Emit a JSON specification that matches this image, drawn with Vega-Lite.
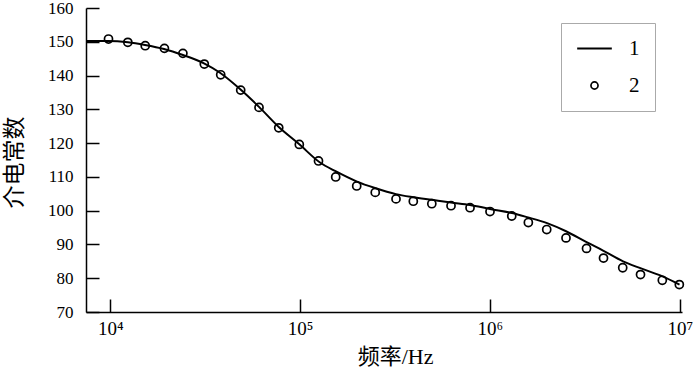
{
  "$schema": "https://vega.github.io/schema/vega-lite/v6.json",
  "autosize": {"type": "none"},
  "padding": {"left": 86, "top": 8, "right": 18, "bottom": 59},
  "width": 596,
  "height": 304,
  "background": "white",
  "config": {
    "view": {"stroke": null},
    "axis": {"grid": false, "domainColor": "black", "tickColor": "black", "labelColor": "black", "titleColor": "black", "domainWidth": 1.5, "tickWidth": 1.5, "labelFont": "Liberation Serif", "titleFont": "Liberation Serif, Noto Sans CJK SC", "titleFontWeight": "normal"},
    "legend": {
      "orient": "none", "legendX": 475, "legendY": 15, "padding": 15, "strokeColor": "#aaa",
      "symbolSize": 400, "symbolOffset": 8, "labelOffset": 24, "rowPadding": 15,
      "labelFont": "Liberation Serif", "labelFontSize": 21, "labelColor": "black"
    }
  },
  "datasets": {
    "curve": [
      {"f": 7447, "v": 150.22}, {"f": 9726, "v": 150.22}, {"f": 12400, "v": 149.84}, {"f": 15230, "v": 149.05},
      {"f": 19190, "v": 147.86}, {"f": 24150, "v": 146.08}, {"f": 31170, "v": 143.62}, {"f": 37840, "v": 140.83},
      {"f": 48240, "v": 136.0}, {"f": 60750, "v": 130.72}, {"f": 77440, "v": 124.68}, {"f": 98680, "v": 119.72},
      {"f": 127300, "v": 114.25}, {"f": 154600, "v": 111.6}, {"f": 199400, "v": 108.6}, {"f": 248100, "v": 106.7},
      {"f": 320100, "v": 104.9}, {"f": 393300, "v": 104.0}, {"f": 495300, "v": 103.2}, {"f": 623700, "v": 102.4},
      {"f": 785700, "v": 101.7}, {"f": 1001000, "v": 100.5}, {"f": 1308000, "v": 99.3}, {"f": 1588000, "v": 98.0},
      {"f": 2000000, "v": 96.3}, {"f": 2518000, "v": 93.9}, {"f": 3249000, "v": 90.6}, {"f": 3944000, "v": 88.2},
      {"f": 5028000, "v": 85.0}, {"f": 6256000, "v": 82.9}, {"f": 8067000, "v": 80.6}, {"f": 9975000, "v": 78.1}
    ],
    "points": [
      {"f": 9784, "v": 150.81}, {"f": 12370, "v": 149.84}, {"f": 15275, "v": 148.83}, {"f": 19280, "v": 148.06},
      {"f": 24130, "v": 146.58}, {"f": 31280, "v": 143.4}, {"f": 38160, "v": 140.23}, {"f": 48640, "v": 135.7},
      {"f": 60750, "v": 130.57}, {"f": 77160, "v": 124.53}, {"f": 99040, "v": 119.61}, {"f": 125000, "v": 114.72},
      {"f": 154000, "v": 109.98}, {"f": 198700, "v": 107.31}, {"f": 248800, "v": 105.41}, {"f": 320100, "v": 103.49},
      {"f": 394800, "v": 102.8}, {"f": 494200, "v": 102.06}, {"f": 623900, "v": 101.47}, {"f": 785700, "v": 100.88},
      {"f": 1001000, "v": 99.75}, {"f": 1303000, "v": 98.42}, {"f": 1594000, "v": 96.49}, {"f": 1992000, "v": 94.42},
      {"f": 2517000, "v": 91.93}, {"f": 3228000, "v": 88.82}, {"f": 3967000, "v": 85.97}, {"f": 5008000, "v": 83.1},
      {"f": 6215000, "v": 81.08}, {"f": 8096000, "v": 79.39}, {"f": 9952000, "v": 78.12}
    ]
  },
  "encoding": {
    "x": {"field": "f", "type": "quantitative",
      "scale": {"type": "log", "domain": [7447, 10280000], "nice": false},
      "axis": {"values": [10000, 100000, 1000000, 10000000], "tickSize": -13, "labelPadding": 20, "labelFontSize": 19, "labelFont": "Liberation Serif",
        "labelExpr": "datum.value == 10000 ? '10⁴' : datum.value == 100000 ? '10⁵' : datum.value == 1000000 ? '10⁶' : '10⁷'",
        "labelFlush": false, "labelOverlap": false,
        "title": "频率/Hz", "titleFontSize": 22, "titleX": 309, "titleY": 44, "titleBaseline": "middle", "titleAlign": "center"}},
    "y": {"field": "v", "type": "quantitative",
      "scale": {"domain": [70, 160], "nice": false, "zero": false},
      "axis": {"values": [70, 80, 90, 100, 110, 120, 130, 140, 150, 160], "tickSize": -13, "labelPadding": 26, "labelFontSize": 17, "labelFont": "Liberation Serif",
        "labelFlush": false, "labelOverlap": false,
        "title": "介电常数", "titleFontSize": 23, "titleX": -72, "titleY": 154, "titleBaseline": "middle", "titleAlign": "center", "titleAngle": -90}}
  },
  "layer": [
    {
      "data": {"name": "curve"},
      "mark": {"type": "line", "interpolate": "monotone", "strokeWidth": 2},
      "encoding": {
        "color": {"datum": "1", "scale": {"domain": ["1", "2"], "range": ["black", "black"]},
          "legend": {"title": null,
            "encode": {"symbols": {"update": {
              "shape": {"signal": "datum.value === '1' ? 'stroke' : 'circle'"},
              "size": {"signal": "datum.value === '1' ? 1200 : 50"},
              "strokeWidth": {"signal": "datum.value === '1' ? 2 : 1.7"},
              "stroke": {"value": "black"},
              "fill": {"value": "transparent"}}}}}}
      }
    },
    {
      "data": {"name": "points"},
      "mark": {"type": "point", "shape": "circle", "filled": false, "size": 65, "strokeWidth": 1.7, "opacity": 1},
      "encoding": {"color": {"datum": "2"}}
    }
  ]
}
